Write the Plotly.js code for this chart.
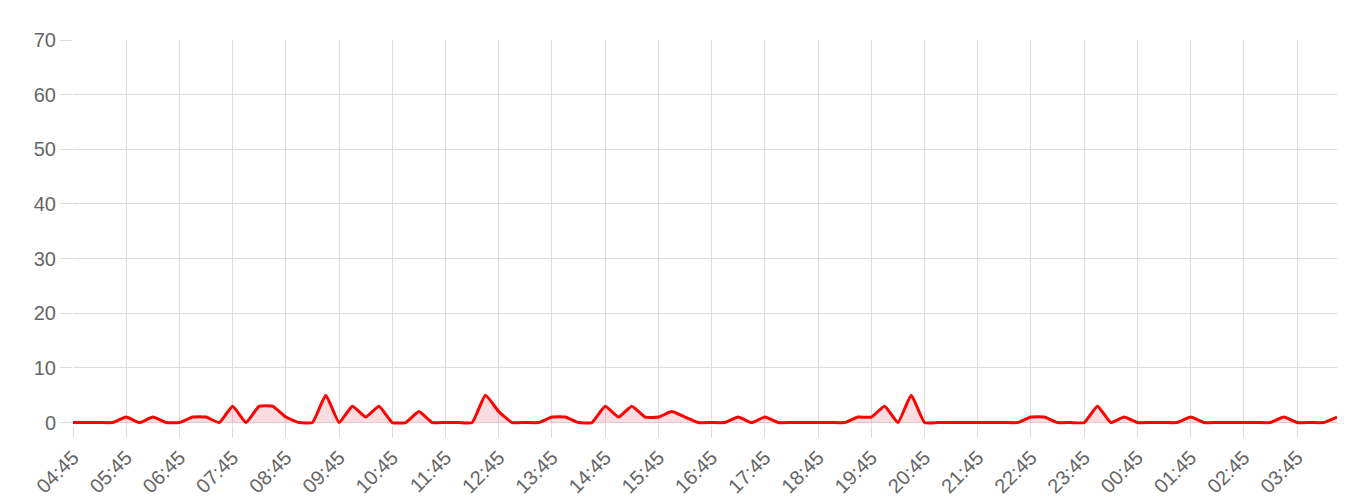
<!DOCTYPE html>
<html>
<head>
<meta charset="utf-8">
<script src="https://cdn.plot.ly/plotly-3.0.1.min.js"></script>
<style>
html,body{margin:0;padding:0;background:#fff;}
#chart{width:1360px;height:503px;}
</style>
</head>
<body>
<div id="chart"></div>
<script>
// 15-minute intervals starting at 04:45
var startTime = '2024-01-01T04:45:00';
var stepMinutes = 15;
var values = [
  0,0,0,0, 1,0,1,0, 0,1,1,0, 3,0,3,3,
  1,0,0,5, 0,3,1,3, 0,0,2,0, 0,0,0,5,
  2,0,0,0, 1,1,0,0, 3,1,3,1, 1,2,1,0,
  0,0,1,0, 1,0,0,0, 0,0,0,1, 1,3,0,5,
  0,0,0,0, 0,0,0,0, 1,1,0,0, 0,3,0,1,
  0,0,0,0, 1,0,0,0, 0,0,0,1, 0,0,0,1
];
var yTicks = [0,10,20,30,40,50,60,70];

function pad(n){return (n<10?'0':'')+n;}
function fmt(d){
  return d.getFullYear()+'-'+pad(d.getMonth()+1)+'-'+pad(d.getDate())+' '+pad(d.getHours())+':'+pad(d.getMinutes());
}
var t0 = new Date(startTime);
var times = values.map(function(_, i){
  return fmt(new Date(t0.getTime() + i*stepMinutes*60000));
});

var grid = '#dcdcdc';
var trace = {
  x: times,
  y: values,
  type: 'scatter',
  mode: 'lines',
  line: {color: '#ff0000', width: 3, shape: 'spline', smoothing: 0.4},
  fill: 'tozeroy',
  fillcolor: 'rgba(230,20,50,0.15)',
  hoverinfo: 'x+y'
};

var layout = {
  width: 1360, height: 503,
  margin: {l: 73, r: 23, t: 40, b: 78},
  paper_bgcolor: '#fff', plot_bgcolor: '#fff',
  showlegend: false,
  font: {family: 'Liberation Sans, Arial, sans-serif', size: 20, color: '#666'},
  xaxis: {
    type: 'date',
    range: [times[0], times[times.length-1]],
    tick0: times[0],
    dtick: 3600000,
    tickformat: '%H:%M',
    tickangle: -45,
    showgrid: true, gridcolor: grid, gridwidth: 1,
    ticks: 'outside', ticklen: 12, tickcolor: grid, tickwidth: 1,
    showline: false, zeroline: false,
    tickfont: {size: 20, color: '#666'}
  },
  yaxis: {
    range: [-0.45, 70],
    tickvals: yTicks,
    ticktext: yTicks.map(String),
    showgrid: true, gridcolor: grid, gridwidth: 1,
    ticks: 'outside', ticklen: 12, tickcolor: grid, tickwidth: 1,
    showline: false, zeroline: false,
    tickfont: {size: 20, color: '#666'}
  }
};

Plotly.newPlot('chart', [trace], layout, {displayModeBar: false, staticPlot: true});
</script>
</body>
</html>
